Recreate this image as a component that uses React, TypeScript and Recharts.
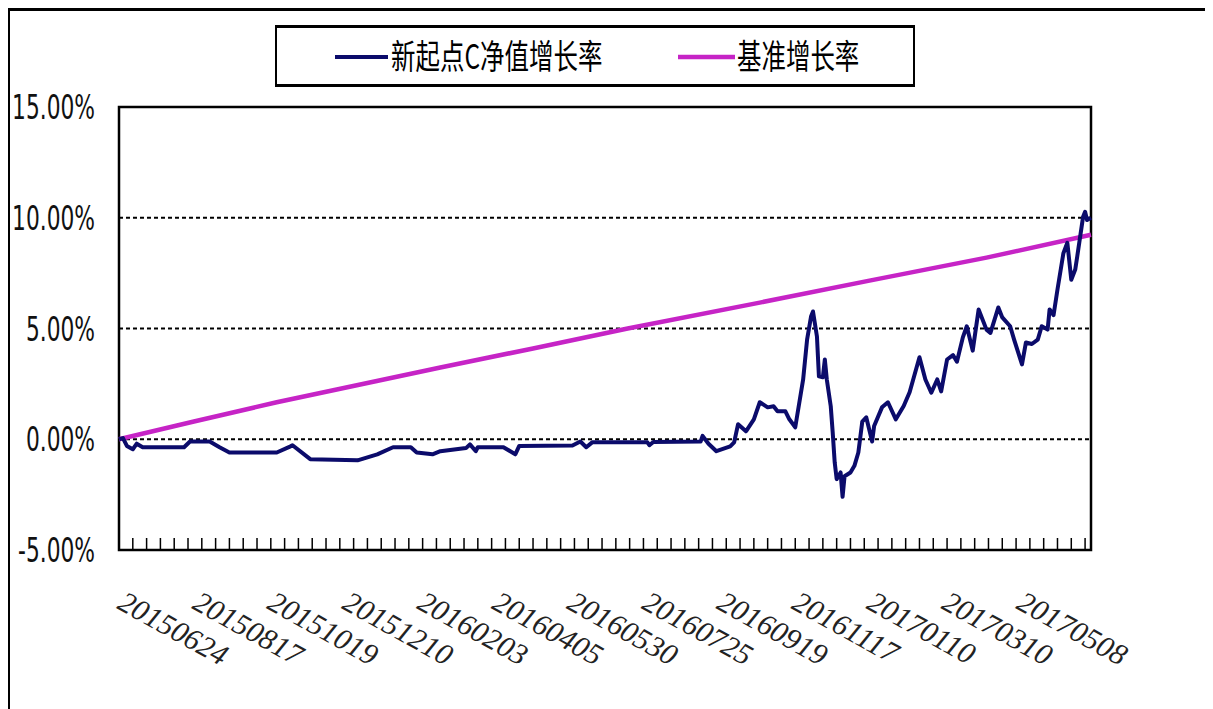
import React from 'react';
import { LineChart, Line, XAxis, YAxis, CartesianGrid, ReferenceArea, Legend } from 'recharts';

const xLabels = ['20150624', '20150817', '20151019', '20151210', '20160203', '20160405', '20160530', '20160725', '20160919', '20161117', '20170110', '20170310', '20170508'];
const xLabelIdx = [0, 38, 76, 114, 152, 190, 228, 266, 304, 342, 380, 418, 456];
const lastIdx = 493;
const minorStep = 7;
const yTicks = [-5, 0, 5, 10, 15];

const navIdx = [0, 2, 4, 7, 9, 12, 33, 36, 46, 51, 56, 80, 87, 88, 97, 121, 131, 139, 148, 151, 159, 163, 176, 178, 181, 182, 195, 201, 203, 230, 234, 237, 240, 268, 269, 271, 295, 296, 299, 303, 310, 312, 314, 318, 322, 325, 329, 332, 334, 338, 340, 343, 347, 349, 351, 352, 354, 355, 357, 358, 359, 361, 362, 363, 364, 366, 367, 368, 371, 373, 375, 377, 379, 382, 383, 387, 390, 394, 398, 401, 406, 409, 412, 415, 417, 420, 423, 425, 428, 430, 433, 436, 440, 442, 446, 448, 452, 454, 458, 460, 463, 466, 468, 471, 472, 474, 476, 479, 481, 483, 485, 486, 489, 490, 491, 493];
const navVal = [0, 0.05, -0.3, -0.45, -0.2, -0.36, -0.36, -0.1, -0.1, -0.36, -0.6, -0.6, -0.32, -0.27, -0.9, -0.95, -0.68, -0.36, -0.36, -0.6, -0.68, -0.54, -0.4, -0.23, -0.54, -0.36, -0.36, -0.68, -0.3, -0.28, -0.1, -0.36, -0.14, -0.14, -0.27, -0.12, -0.1, 0.15, -0.2, -0.54, -0.32, -0.14, 0.68, 0.36, 0.9, 1.67, 1.44, 1.49, 1.26, 1.26, 0.9, 0.54, 2.7, 4.5, 5.54, 5.77, 4.64, 2.84, 2.8, 3.6, 2.7, 1.49, 0.3, -1.04, -1.8, -1.5, -2.6, -1.67, -1.5, -1.2, -0.6, 0.8, 0.99, -0.1, 0.6, 1.44, 1.67, 0.9, 1.5, 2.12, 3.7, 2.7, 2.1, 2.7, 2.16, 3.6, 3.8, 3.5, 4.6, 5.1, 4.0, 5.86, 4.95, 4.8, 5.95, 5.5, 5.1, 4.5, 3.38, 4.37, 4.3, 4.5, 5.1, 4.95, 5.86, 5.6, 6.76, 8.4, 8.87, 7.2, 7.66, 8.24, 10.05, 10.27, 9.9, 10.0];

const benchIdx = [0, 38, 80, 120, 163, 210, 258, 325, 380, 440, 493];
const benchVal = [0, 0.8, 1.67, 2.43, 3.24, 4.1, 5.0, 6.17, 7.15, 8.2, 9.23];

const navName = '新起点C净值增长率';
const benchName = '基准增长率';
const navColor = '#0b0b6b';
const benchColor = '#c624c6';

const navData = navIdx.map((i, k) => ({ i, v: navVal[k] }));
const benchData = benchIdx.map((i, k) => ({ i, v: benchVal[k] }));

const minorTicks: number[] = [];
for (let t = minorStep; t <= lastIdx; t += minorStep) minorTicks.push(t);
const allTicks = Array.from(new Set([...xLabelIdx, ...minorTicks])).sort((a, b) => a - b);

const YTick = (props: any) => {
  const { x, y, payload } = props;
  return (
    <g transform={`translate(${x},${y}) scale(0.64,1)`}>
      <text x={0} y={0} dy="0.36em" textAnchor="end" fontFamily="DejaVu Sans" fontSize={34} fill="#111">
        {`${Number(payload.value).toFixed(2)}%`}
      </text>
    </g>
  );
};

const XTick = (props: any) => {
  const { x, y, payload } = props;
  const v = payload.value;
  const li = xLabelIdx.indexOf(v);
  return (
    <g>
      {v % minorStep === 0 && v > 0 ? (
        <line x1={x} x2={x} y1={y - 12} y2={y} stroke="#000" strokeWidth={1.5} />
      ) : null}
      {li >= 0 ? (
        <g transform={`translate(${x - 3},${y + 58}) rotate(29)`}>
          <text x={0} y={0} textAnchor="start" fontFamily="Liberation Serif" fontStyle="italic" fontSize={30} fill="#222">
            {xLabels[li]}
          </text>
        </g>
      ) : null}
    </g>
  );
};

const LegendBox = () => (
  <div style={{ width: 636, height: 56, border: '2px solid #000', borderTopWidth: 3, borderBottomWidth: 3, background: '#fff' }}>
    <svg width={636} height={56}>
      <line x1={58} x2={111} y1={29} y2={29} stroke={navColor} strokeWidth={4} />
      <g transform="translate(114,29) scale(0.72,1)">
        <text x={0} y={0} dy="0.36em" fontFamily="Noto Sans CJK SC" fontSize={34} fill="#000">{navName}</text>
      </g>
      <line x1={401} x2={458} y1={29} y2={29} stroke={benchColor} strokeWidth={4.5} />
      <g transform="translate(460,29) scale(0.72,1)">
        <text x={0} y={0} dy="0.36em" fontFamily="Noto Sans CJK SC" fontSize={34} fill="#000">{benchName}</text>
      </g>
    </svg>
  </div>
);

export default function App() {
  return (
    <div style={{ width: 1195, height: 698, borderLeft: '2px solid #000', borderTop: '3px solid #000', borderRight: '1px solid #aaa', background: '#fff', position: 'relative' }}>
      <LineChart width={1195} height={698} margin={{ top: 96, right: 114, bottom: 39, left: 9 }}>
        <CartesianGrid vertical={false} stroke="#000" strokeDasharray="4 3" strokeWidth={2} />
        <XAxis
          type="number"
          dataKey="i"
          domain={[0, lastIdx]}
          ticks={allTicks}
          interval={0}
          tickSize={0}
          tickMargin={0}
          tickLine={false}
          axisLine={false}
          height={120}
          tick={(p: any) => <XTick {...p} />}
        />
        <YAxis
          type="number"
          domain={[-5, 15]}
          ticks={yTicks}
          interval={0}
          tickSize={0}
          tickMargin={24}
          tickLine={false}
          axisLine={false}
          width={100}
          tick={(p: any) => <YTick {...p} />}
        />
        <ReferenceArea x1={0} x2={lastIdx} y1={-5} y2={15} fill="none" stroke="#000" strokeWidth={2.5} fillOpacity={0} />
        <Line data={benchData} dataKey="v" name={benchName} type="linear" stroke={benchColor} strokeWidth={4.5} dot={false} isAnimationActive={false} />
        <Line data={navData} dataKey="v" name={navName} type="linear" stroke={navColor} strokeWidth={4} strokeLinejoin="round" dot={false} isAnimationActive={false} />
        <Legend
          layout="horizontal"
          verticalAlign="middle"
          align="center"
          content={() => <LegendBox />}
          wrapperStyle={{ left: 265, top: 14, width: 640, height: 62 }}
        />
      </LineChart>
    </div>
  );
}
